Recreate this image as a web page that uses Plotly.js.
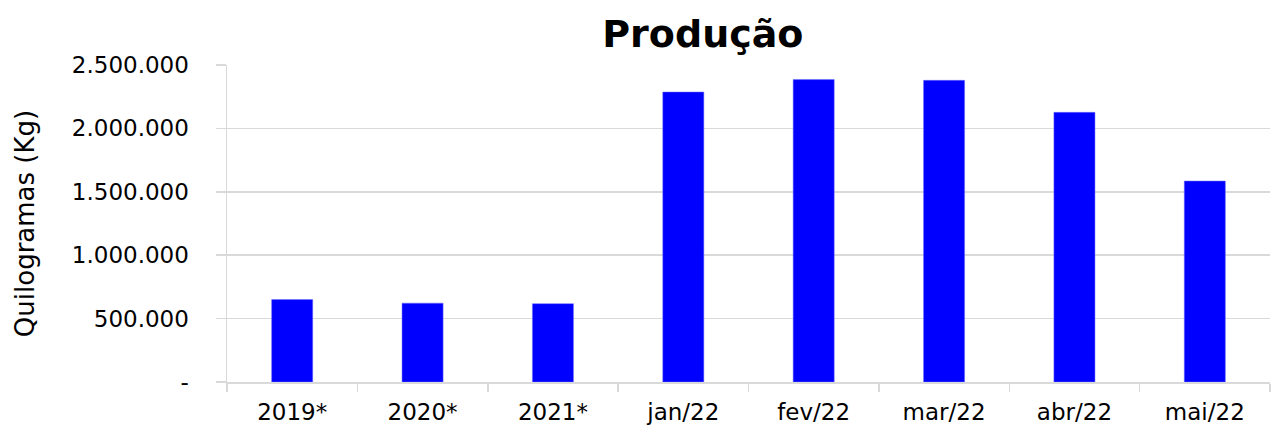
<!DOCTYPE html>
<html>
<head>
<meta charset="utf-8">
<script src="https://cdn.plot.ly/plotly-3.0.1.min.js"></script>
<style>html,body{margin:0;padding:0;background:#fff;}#chart{width:1271px;height:433px;}</style>
</head>
<body>
<div id="chart"></div>
<script>
const categories = ["2019*", "2020*", "2021*", "jan/22", "fev/22", "mar/22", "abr/22", "mai/22"];
const producao = [650000, 622000, 618000, 2287000, 2385000, 2379000, 2127000, 1585000];
const yTickVals = [0, 500000, 1000000, 1500000, 2000000, 2500000];
const yTickText = ["-", "500.000", "1.000.000", "1.500.000", "2.000.000", "2.500.000"];

const font = "'DejaVu Sans', sans-serif";
Plotly.newPlot("chart", [{
  type: "bar",
  x: categories,
  y: producao,
  marker: {color: "#0000ff", line: {color: "#6f6fff", width: 0.5}},
  hoverinfo: "x+y"
}], {
  width: 1271, height: 433,
  margin: {l: 227, r: 1, t: 65, b: 51, pad: 0},
  paper_bgcolor: "#fff", plot_bgcolor: "#fff",
  bargap: 0.685,
  showlegend: false,
  title: {text: "<b>Produção</b>", font: {family: font, size: 38, color: "#000"}, x: 0.553, xanchor: "center", xref: "container", yref: "container", y: 0.922, yanchor: "middle"},
  xaxis: {
    type: "category",
    tickfont: {family: font, size: 23, color: "#000"},
    ticks: "outside", tickson: "boundaries", ticklen: 8, tickcolor: "#d9d9d9", tickwidth: 1.5,
    ticklabelstandoff: 9,
    showline: true, linecolor: "#d9d9d9", linewidth: 1.5,
    showgrid: false, fixedrange: true
  },
  yaxis: {
    range: [0, 2500000],
    tickvals: yTickVals, ticktext: yTickText,
    tickfont: {family: font, size: 23, color: "#000"},
    ticks: "outside", ticklen: 10, tickcolor: "#d9d9d9", tickwidth: 1.5,
    ticklabelstandoff: 22,
    showgrid: true, gridcolor: "#d9d9d9", gridwidth: 1.5,
    showline: true, linecolor: "#d9d9d9", linewidth: 1.5,
    zeroline: false,
    title: {text: "Quilogramas (Kg)", font: {family: font, size: 26, color: "#000"}, standoff: 29},
    automargin: false, fixedrange: true
  }
}, {displayModeBar: false, staticPlot: true});
</script>
</body>
</html>
